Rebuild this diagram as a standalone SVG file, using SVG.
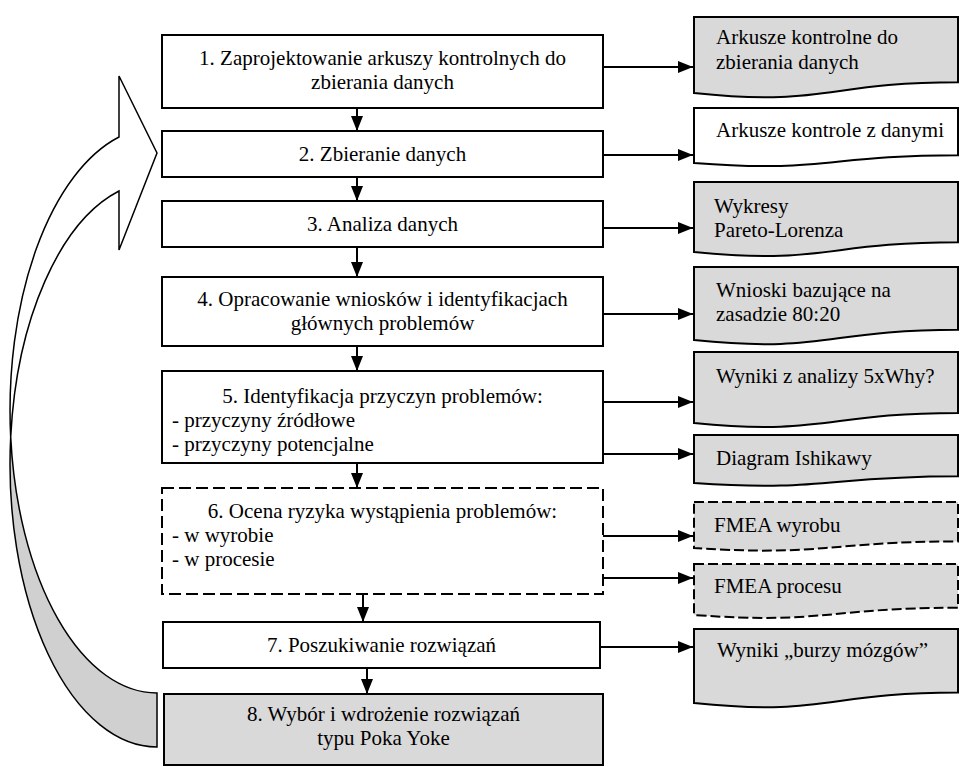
<svg xmlns="http://www.w3.org/2000/svg" width="962" height="767" viewBox="0 0 962 767">
<defs>
<marker id="ah" markerUnits="userSpaceOnUse" viewBox="0 0 15 12" refX="15" refY="6" markerWidth="15" markerHeight="12" orient="auto">
<path d="M0,0 L15,6 L0,12 Z" fill="#000"/>
</marker>
</defs>
<style>
text{font-family:"Liberation Serif","Times New Roman",serif;font-size:21px;fill:#000}
.c{text-anchor:middle}
.box{fill:#fff;stroke:#000;stroke-width:2}
.gbox{fill:#d9d9d9;stroke:#000;stroke-width:2}
.dash{stroke-dasharray:12 5}
.ddash{stroke-dasharray:10 4}
.doc{fill:#d9d9d9;stroke:#000;stroke-width:2}
.wdoc{fill:#fff;stroke:#000;stroke-width:2}
.con line{stroke:#000;stroke-width:2;marker-end:url(#ah)}
</style>
<rect width="962" height="767" fill="#fff"/>

<g id="loop-arrow" stroke="#000" stroke-width="1.5" stroke-linejoin="miter">
<path d="M10.7,437 A147,282.8 0 0 0 157,747 L157,693 A147,282.8 0 0 1 10.7,437 Z" fill="#d0d0d0"/>
<path d="M119,137 A147,282.8 0 0 0 10.7,437 A147,282.8 0 0 1 119,191 L119,250 L157,153 L119,76 Z" fill="#fff"/>
</g>

<g id="step1"><rect class="box" x="162" y="35" width="441" height="73"/>
<text class="c" x="382.5" y="65">1. Zaprojektowanie arkuszy kontrolnych do</text>
<text class="c" x="382.5" y="89">zbierania danych</text></g>
<g id="step2"><rect class="box" x="162" y="131" width="441" height="46"/>
<text class="c" x="382.5" y="161">2. Zbieranie danych</text></g>
<g id="step3"><rect class="box" x="162" y="201" width="441" height="46"/>
<text class="c" x="382.5" y="231">3. Analiza danych</text></g>
<g id="step4"><rect class="box" x="162" y="277" width="441" height="69"/>
<text class="c" x="382.5" y="306">4. Opracowanie wniosków i identyfikacjach</text>
<text class="c" x="382.5" y="330">głównych problemów</text></g>
<g id="step5"><rect class="box" x="162" y="371" width="441" height="92"/>
<text class="c" x="382.5" y="403">5. Identyfikacja przyczyn problemów:</text>
<text x="172" y="427">- przyczyny źródłowe</text>
<text x="172" y="451">- przyczyny potencjalne</text></g>
<g id="step6"><rect class="box dash" x="162" y="488" width="441" height="106"/>
<text class="c" x="382.5" y="518">6. Ocena ryzyka wystąpienia problemów:</text>
<text x="172" y="542">- w wyrobie</text>
<text x="172" y="566">- w procesie</text></g>
<g id="step7"><rect class="box" x="163" y="622" width="437" height="46"/>
<text class="c" x="381.5" y="652">7. Poszukiwanie rozwiązań</text></g>
<g id="step8"><rect class="gbox" x="164" y="694" width="439" height="71"/>
<text class="c" x="383.5" y="721">8. Wybór i wdrożenie rozwiązań</text>
<text class="c" x="383.5" y="745">typu Poka Yoke</text></g>

<g id="doc1"><path class="doc" d="M694,17 H958 V82.3 C826,82.3 826,107.1 694,93 Z"/>
<text x="716" y="44">Arkusze kontrolne do</text><text x="716" y="69">zbierania danych</text></g>
<g id="doc2"><path class="wdoc" d="M694,108 H958 V155.2 C826,155.2 826,173.2 694,163 Z"/>
<text x="716" y="137">Arkusze kontrole z danymi</text></g>
<g id="doc3"><path class="doc" d="M694,182 H958 V242.2 C826,242.2 826,265 694,252 Z"/>
<text x="714" y="213">Wykresy</text><text x="714" y="237">Pareto-Lorenza</text></g>
<g id="doc4"><path class="doc" d="M694,267 H958 V329.7 C826,329.7 826,353.6 694,340 Z"/>
<text x="716" y="297">Wnioski bazujące na</text><text x="716" y="321">zasadzie 80:20</text></g>
<g id="doc5"><path class="doc" d="M694,352 H958 V413 C826,413 826,436 694,423 Z"/>
<text x="716" y="383">Wyniki z analizy 5xWhy?</text></g>
<g id="doc6"><path class="doc" d="M694,435 H958 V476.2 C826,476.2 826,492 694,483 Z"/>
<text x="716" y="465">Diagram Ishikawy</text></g>
<g id="doc7"><path class="doc ddash" d="M694,502 H958 V541.5 C826,541.5 826,556.6 694,548 Z"/>
<text x="714" y="532">FMEA wyrobu</text></g>
<g id="doc8"><path class="doc ddash" d="M694,564 H958 V607.8 C826,607.8 826,624.4 694,615 Z"/>
<text x="714" y="593">FMEA procesu</text></g>
<g id="doc9"><path class="doc" d="M694,629 H958 V692.5 C826,692.5 826,716.7 694,703 Z"/>
<text x="717" y="657">Wyniki „burzy mózgów”</text></g>

<g id="connectors" class="con">
<line x1="357" y1="108" x2="357" y2="131"/>
<line x1="357" y1="177" x2="357" y2="201"/>
<line x1="357" y1="247" x2="357" y2="277"/>
<line x1="357" y1="346" x2="357" y2="371"/>
<line x1="357" y1="463" x2="357" y2="488"/>
<line x1="363" y1="594" x2="363" y2="622"/>
<line x1="367" y1="668" x2="367" y2="694"/>
<line x1="603" y1="67" x2="693" y2="67"/>
<line x1="603" y1="155" x2="693" y2="155"/>
<line x1="603" y1="228" x2="693" y2="228"/>
<line x1="603" y1="314" x2="693" y2="314"/>
<line x1="603" y1="402" x2="693" y2="402"/>
<line x1="603" y1="454" x2="693" y2="454"/>
<line x1="603" y1="536" x2="693" y2="536"/>
<line x1="603" y1="578" x2="693" y2="578"/>
<line x1="600" y1="647" x2="693" y2="647"/>
</g>
</svg>
